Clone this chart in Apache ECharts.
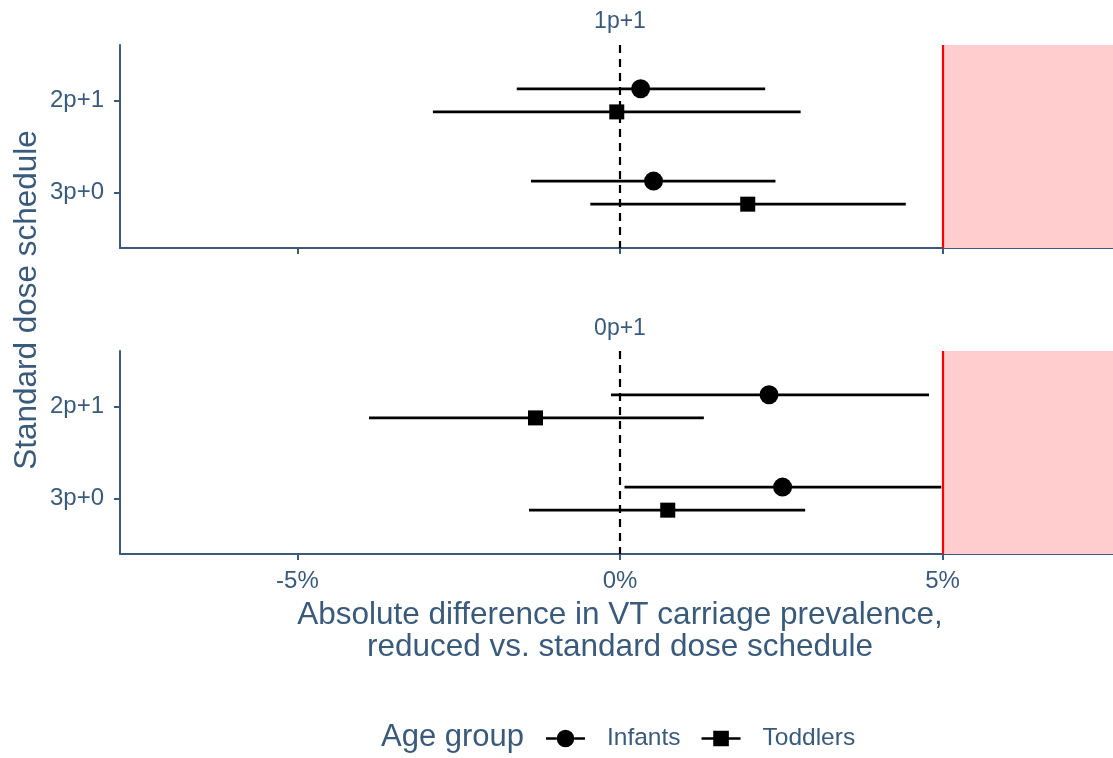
<!DOCTYPE html>
<html><head><meta charset="utf-8">
<script src="https://cdn.jsdelivr.net/npm/echarts@6/dist/echarts.min.js"></script>
<style>html,body{margin:0;padding:0;background:#fff}#c{width:1113px;height:758px}</style>
</head><body><div id="c"></div>
<script>
// ---- data ----
const panels = ['1p+1', '0p+1'];
const schedules = ['2p+1', '3p+0'];
const groups = ['Infants', 'Toddlers'];
const xTicks = [-5, 0, 5];
const refZero = 0;
const margin = 5;
// panel 1p+1 (estimate, lower, upper), order = schedules
const p1InfantsEst = [0.32, 0.52];
const p1InfantsLo = [-1.60, -1.38];
const p1InfantsHi = [2.25, 2.41];
const p1ToddlersEst = [-0.05, 1.98];
const p1ToddlersLo = [-2.90, -0.46];
const p1ToddlersHi = [2.80, 4.43];
// panel 0p+1
const p0InfantsEst = [2.31, 2.52];
const p0InfantsLo = [-0.14, 0.07];
const p0InfantsHi = [4.79, 4.98];
const p0ToddlersEst = [-1.31, 0.74];
const p0ToddlersLo = [-3.89, -1.41];
const p0ToddlersHi = [1.30, 2.87];

const panelData = [
  [[p1InfantsEst, p1InfantsLo, p1InfantsHi], [p1ToddlersEst, p1ToddlersLo, p1ToddlersHi]],
  [[p0InfantsEst, p0InfantsLo, p0InfantsHi], [p0ToddlersEst, p0ToddlersLo, p0ToddlersHi]]
];

// ---- style ----
const SL = '#3a5a7c';
const FF = 'Liberation Sans, Arial, sans-serif';
const XMIN = -7.75, XMAX = 7.75;
const dodge = [-0.125, 0.125];
const symbols = ['circle', 'rect'];
const symSizes = [19, 15];

const chart = echarts.init(document.getElementById('c'), null, {renderer: 'canvas'});

const grids = [
  {left: 120, top: 45, width: 1000, height: 203, outerBoundsMode: 'none'},
  {left: 120, top: 351, width: 1000, height: 203, outerBoundsMode: 'none'}
];

const xAxes = panels.map((p, i) => ({
  type: 'value', gridIndex: i, min: XMIN, max: XMAX,
  axisLine: {show: true, onZero: false, lineStyle: {color: SL, width: 2}},
  axisTick: {show: true, customValues: xTicks, length: 6, lineStyle: {color: SL, width: 2}},
  axisLabel: {show: i === 1, customValues: xTicks, formatter: v => v + '%', fontSize: 24, color: SL, fontFamily: FF, margin: 15},
  splitLine: {show: false},
  name: i === 1 ? 'Absolute difference in VT carriage prevalence,\nreduced vs. standard dose schedule' : '',
  nameLocation: 'middle', nameGap: 45,
  nameTextStyle: {fontSize: 31.5, color: SL, fontFamily: FF, lineHeight: 32}
}));

const yAxes = panels.map((p, i) => ({
  type: 'value', gridIndex: i, min: 0.4, max: 2.6, inverse: true,
  axisLine: {show: true, onZero: false, lineStyle: {color: SL, width: 2}},
  axisTick: {show: true, customValues: [1, 2], length: 6, lineStyle: {color: SL, width: 2}},
  axisLabel: {show: true, customValues: [1, 2], formatter: v => schedules[Math.round(v) - 1] || '', fontSize: 24, color: SL, fontFamily: FF, margin: 16},
  splitLine: {show: false}
}));

const series = [];
panels.forEach((p, pi) => {
  groups.forEach((g, gi) => {
    const [est, lo, hi] = panelData[pi][gi];
    const barData = schedules.map((s, si) => [si + 1 + dodge[gi], lo[si], hi[si]]);
    const bar = {
      type: 'custom', name: g + ' CI ' + p, coordinateSystem: 'cartesian2d',
      xAxisIndex: pi, yAxisIndex: pi, silent: true, z: 3,
      encode: {x: [1, 2], y: 0},
      data: barData,
      renderItem: (params, api) => {
        const y = api.value(0), l = api.value(1), h = api.value(2);
        const a = api.coord([l, y]), b = api.coord([h, y]);
        return {type: 'line', shape: {x1: a[0], y1: a[1], x2: b[0], y2: b[1]}, style: {stroke: '#000', lineWidth: 2.6}};
      }
    };
    if (gi === 0) {
      bar.markArea = {silent: true, itemStyle: {color: '#ffcdcd'}, data: [[{xAxis: margin}, {xAxis: XMAX}]]};
      bar.markLine = {
        silent: true, symbol: 'none', label: {show: false},
        data: [
          {xAxis: refZero, lineStyle: {color: '#000', type: [8, 6], width: 2.2}},
          {xAxis: margin, lineStyle: {color: '#ff0000', type: 'solid', width: 2.2}}
        ]
      };
    }
    series.push(bar);
    series.push({
      type: 'scatter', name: g, xAxisIndex: pi, yAxisIndex: pi, z: 5,
      symbol: symbols[gi], symbolSize: symSizes[gi],
      itemStyle: {color: '#000', opacity: 1},
      data: schedules.map((s, si) => [est[si], si + 1 + dodge[gi]])
    });
  });
});

const circleIcon = 'path://M0,7.7h11v2.6h-11z M11,9a9,9 0 1,0 18,0a9,9 0 1,0 -18,0z M29,7.7h11v2.6h-11z';
const squareIcon = 'path://M0,6.7h12v2.6h-12z M12,0h16v16h-16z M28,6.7h12v2.6h-12z';

chart.setOption({
  animation: false,
  backgroundColor: '#fff',
  grid: grids,
  xAxis: xAxes,
  yAxis: yAxes,
  series: series,
  legend: {
    left: 546, top: 726, padding: 0, itemGap: 21, itemWidth: 39, itemHeight: 19, selectedMode: false,
    data: [
      {name: groups[0], icon: circleIcon, itemStyle: {color: '#000'}},
      {name: groups[1], icon: squareIcon, itemStyle: {color: '#000'}}
    ],
    textStyle: {fontSize: 24.5, color: SL, fontFamily: FF, padding: [0, 0, 0, 17]}
  },
  graphic: [
    {type: 'text', x: 620, y: 22, style: {text: panels[0], fill: SL, fontSize: 23, fontFamily: FF, align: 'center', verticalAlign: 'middle'}},
    {type: 'text', x: 620, y: 329, style: {text: panels[1], fill: SL, fontSize: 23, fontFamily: FF, align: 'center', verticalAlign: 'middle'}},
    {type: 'text', x: 27, y: 300, rotation: Math.PI / 2, style: {text: 'Standard dose schedule', fill: SL, fontSize: 31.5, fontFamily: FF, align: 'center', verticalAlign: 'middle'}},
    {type: 'text', x: 381, y: 737, style: {text: 'Age group', fill: SL, fontSize: 31, fontFamily: FF, align: 'left', verticalAlign: 'middle'}}
  ]
});
</script></body></html>
